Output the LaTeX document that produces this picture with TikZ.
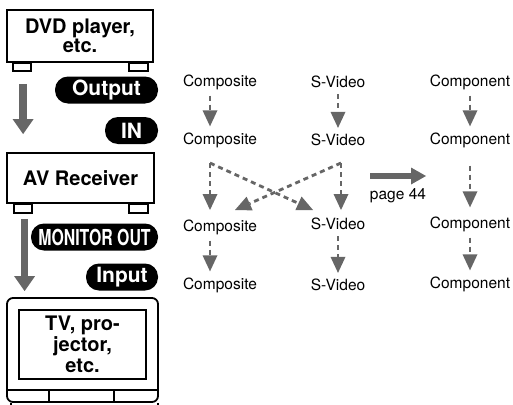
\documentclass[tikz,border=0pt]{standalone}
\usepackage{fontspec}
\setmainfont{TeX Gyre Heros}
\newfontfamily\condfont[FakeStretch=0.72]{TeX Gyre Heros}
\usetikzlibrary{arrows.meta, positioning, calc}
\definecolor{ArrowGray}{RGB}{102,102,102}
\tikzset{
  unitbox/.style={draw, line width=1.8pt, fill=white, inner sep=0pt, align=center,
    font=\fontsize{20}{19}\selectfont\bfseries},
  foot/.style={draw, line width=1.4pt, fill=white},
  pill/.style={fill=black, text=white, rounded corners=13pt, inner sep=0pt,
    minimum height=27pt, font=\fontsize{21}{21}\selectfont\bfseries},
  colname/.style={inner sep=0pt, font=\fontsize{15.5}{16}\selectfont},
  linkarrow/.style={ArrowGray, line width=2.8pt, dash pattern=on 5pt off 4pt,
    -{Triangle[length=16pt, width=15pt, line width=0pt]}},
  flowarrow/.style={ArrowGray, line width=7.5pt,
    -{Triangle[length=15pt, width=21pt, line width=0pt]}},
}
\begin{document}
\begin{tikzpicture}[x=1pt, y=-1pt]
  \useasboundingbox (0,0) rectangle (513,404);
  % Source unit
  \node[unitbox, minimum width=146pt, minimum height=52pt] (dvd) at (80,36) {DVD player,\\etc.};
  \draw[foot] ($(dvd.south west)+(7,0)$) rectangle ++(18,8);
  \draw[foot] ($(dvd.south east)+(-25,0)$) rectangle ++(19,8);
  % Receiver
  \node[unitbox, minimum width=147pt, minimum height=50pt] (avr) at (80.5,178) {AV Receiver};
  \draw[foot] ($(avr.south west)+(8,0)$) rectangle ++(18,9);
  \draw[foot] ($(avr.south east)+(-26,0)$) rectangle ++(19,9);
  % Display
  \node[draw, line width=1.8pt, rounded corners=6pt, minimum width=151pt, minimum height=104pt] (tv) at (82.5,350) {};
  \node[draw, line width=1.4pt, minimum width=127pt, minimum height=69pt, inner sep=0pt, align=center,
    font=\fontsize{20}{21}\selectfont\bfseries] (screen) at (82.5,344.5) {TV, pro-\\jector,\\etc.};
  \draw[line width=1.2pt] (tv.west |- 0,390) -- (tv.east |- 0,390);
  \draw[line width=1.2pt] (49,390) -- (49,402) (114,390) -- (114,402);
  \draw[line width=1.6pt] ($(tv.south west)+(5,0)$) -- ++(0,3) ($(tv.south east)+(-1,0)$) -- ++(0,3);
  % Signal flow
  \draw[flowarrow] ($(dvd.south west)+(17,21)$) -- ($(avr.north west)+(17,-18)$);
  \draw[flowarrow] ($(avr.south west)+(18.5,15)$) -- ($(tv.north west)+(18.5,-6)$);
  % Jack labels
  \node[pill, minimum width=103pt] (out) at (106.5,90) {Output};
  \node[pill, minimum width=53pt] (in) at (131.5,130.5) {IN};
  \node[pill, minimum width=127pt] (monout) at (94.5,237) {\condfont\fontsize{22}{22}\selectfont MONITOR OUT};
  \node[pill, minimum width=72pt] (inp) at (122,277) {Input};
  % Columns
  \node[colname] (c1) at (220,82) {Composite};
  \node[colname] (c2) at (220,140) {Composite};
  \node[colname] (c3) at (220,227) {Composite};
  \node[colname] (c4) at (220,285) {Composite};
  \node[colname] (s1) at (338,82) {S-Video};
  \node[colname] (s2) at (338,140) {S-Video};
  \node[colname] (s3) at (338,224) {S-Video};
  \node[colname] (s4) at (338,285) {S-Video};
  \node[colname] (p1) at (470,82) {Component};
  \node[colname] (p2) at (470,140) {Component};
  \node[colname] (p3) at (470,224) {Component};
  \node[colname] (p4) at (470,284) {Component};
  % Links
  \draw[linkarrow, shorten <=6pt, shorten >=6pt] ([xshift=-10pt]c1.south) -- ([xshift=-10pt]c2.north);
  \draw[linkarrow, shorten <=6pt, shorten >=6pt] (s1.south) -- (s2.north);
  \draw[linkarrow, shorten <=6pt, shorten >=6pt] (p1.south) -- (p2.north);
  \draw[linkarrow, shorten <=6pt, shorten >=6pt] ([xshift=-10pt]c3.south) -- ([xshift=-10pt]c4.north);
  \draw[linkarrow, shorten <=6pt, shorten >=6pt] (s3.south) -- (s4.north);
  \draw[linkarrow, shorten <=6pt, shorten >=6pt] (p3.south) -- (p4.north);
  \draw[linkarrow, shorten <=18pt, shorten >=9pt] (p2.south) -- (p3.north);
  % Cross links
  \coordinate (cc) at (210,163);
  \coordinate (sc) at (341,163);
  \coordinate (ctip) at (235,210);
  \coordinate (stip) at (313,210);
  \draw[ArrowGray, line width=2.8pt, dash pattern=on 5pt off 4pt] (cc) -- ++(0,5);
  \draw[linkarrow] (cc) -- (cc |- ctip);
  \draw[linkarrow] (cc) -- (stip);
  \draw[linkarrow] (sc) -- (sc |- ctip);
  \draw[linkarrow] (sc) -- (ctip);
  % Page reference
  \draw[ArrowGray, line width=6pt, -{Triangle[length=15pt, width=17pt, line width=0pt]}] (370,176) coordinate (pg) -- (426,176) coordinate (pgtip);
  \node[colname, below=12pt of $(pg)!0.5!(pgtip)$] (page) {page 44};
\end{tikzpicture}
\end{document}
